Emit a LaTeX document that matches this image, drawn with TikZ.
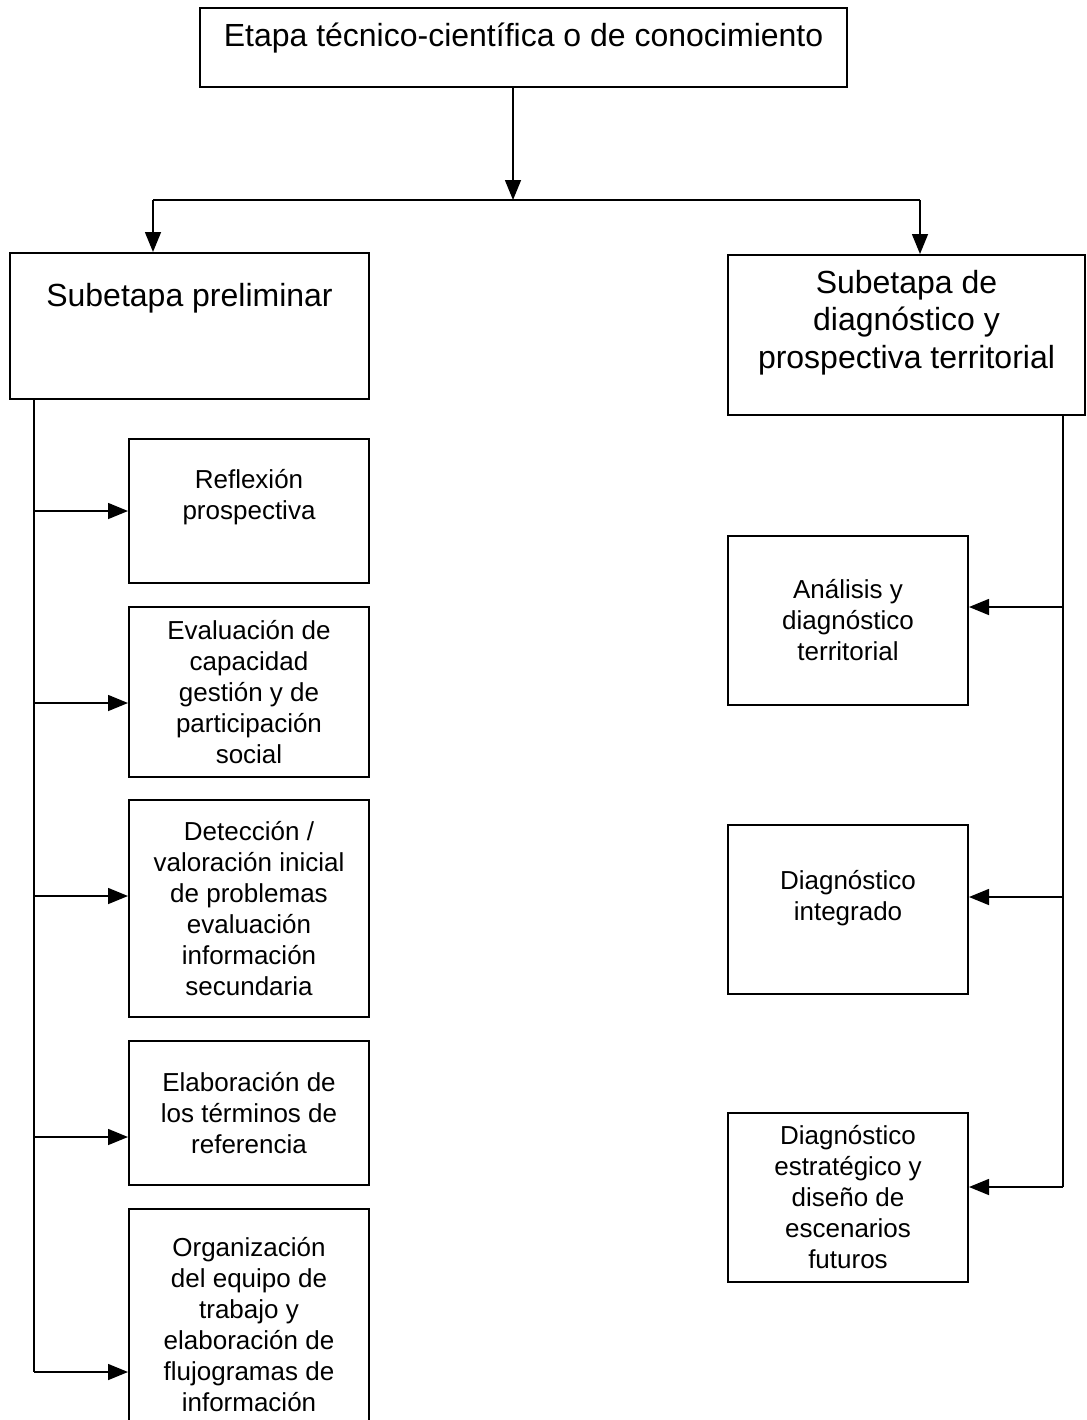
\documentclass[tikz,border=0pt]{standalone}
\usepackage{fontspec}
\setmainfont{Liberation Sans}
\usetikzlibrary{arrows.meta}

\tikzset{
  bigbox/.style={draw, line width=1pt, align=center, inner sep=0pt,
    font=\fontsize{16pt}{18.75pt}\selectfont},
  smallbox/.style={draw, line width=1pt, align=center, inner sep=0pt,
    minimum width=120pt, font=\fontsize{13pt}{15.5pt}\selectfont},
  arr/.style={line width=0.75pt, -{Triangle[length=10pt,width=8pt]}},
  link/.style={line width=0.75pt}
}

\begin{document}
\begin{tikzpicture}[x=0.5pt, y=-0.5pt]
  \useasboundingbox (0,0) rectangle (1087,1420);
  \clip (0,0) rectangle (1087,1420);

  % main stage
  \node[bigbox, minimum width=323.5pt, minimum height=39.5pt, text depth=12.5pt] (etapa) at (523.5,47.5)
    {Etapa técnico-científica o de conocimiento};

  % sub-stages
  \node[bigbox, minimum width=179.5pt, minimum height=73pt, text depth=31pt] (prelim) at (189.5,326)
    {Subetapa preliminar};
  \node[bigbox, minimum width=178.5pt, minimum height=80pt, text depth=16pt] (diagn) at (906.5,335)
    {Subetapa de\\diagnóstico y\\prospectiva territorial};

  % left column
  \node[smallbox, minimum height=72pt, text depth=16.5pt] (reflex) at (249,511)
    {Reflexión\\prospectiva};
  \node[smallbox, minimum height=85pt] (evalua) at (249,692)
    {Evaluación de\\capacidad\\gestión y de\\participación\\social};
  \node[smallbox, minimum height=108.5pt] (detecc) at (249,908.5)
    {Detección /\\valoración inicial\\de problemas\\evaluación\\información\\secundaria};
  \node[smallbox, minimum height=72pt] (elabor) at (249,1113)
    {Elaboración de\\los términos de\\referencia};
  \node[smallbox, minimum height=115.5pt] (organiz) at (249,1324.5)
    {Organización\\del equipo de\\trabajo y\\elaboración de\\flujogramas de\\información};

  % right column
  \node[smallbox, minimum height=84.5pt] (analis) at (848,620.5)
    {Análisis y\\diagnóstico\\territorial};
  \node[smallbox, minimum height=84.5pt, text depth=14.5pt] (integr) at (848,909.5)
    {Diagnóstico\\integrado};
  \node[smallbox, minimum height=84.5pt] (estrat) at (848,1197.5)
    {Diagnóstico\\estratégico y\\diseño de\\escenarios\\futuros};

  % split below the main stage
  \coordinate (split) at (513,200);
  \coordinate (lsplit) at (153,200);
  \coordinate (rsplit) at (920,200);
  \draw[arr] (etapa.south -| split) -- (split);
  \draw[link] (lsplit) -- (rsplit);
  \draw[arr] (lsplit) -- (lsplit |- prelim.north);
  \draw[arr] (rsplit) -- (rsplit |- diagn.north);

  % left trunk
  \coordinate (ltrunk) at (34,1372);
  \draw[link] (prelim.south -| ltrunk) -- (ltrunk);
  \foreach \n/\y in {reflex/511, evalua/703, detecc/896, elabor/1137, organiz/1372}
    \draw[arr] (34,\y) -- (\n.west |- 34,\y);

  % right trunk
  \coordinate (rtrunk) at (1063,1187);
  \draw[link] (diagn.south -| rtrunk) -- (rtrunk);
  \foreach \n/\y in {analis/607, integr/897, estrat/1187}
    \draw[arr] (1063,\y) -- (\n.east |- 1063,\y);
\end{tikzpicture}
\end{document}
